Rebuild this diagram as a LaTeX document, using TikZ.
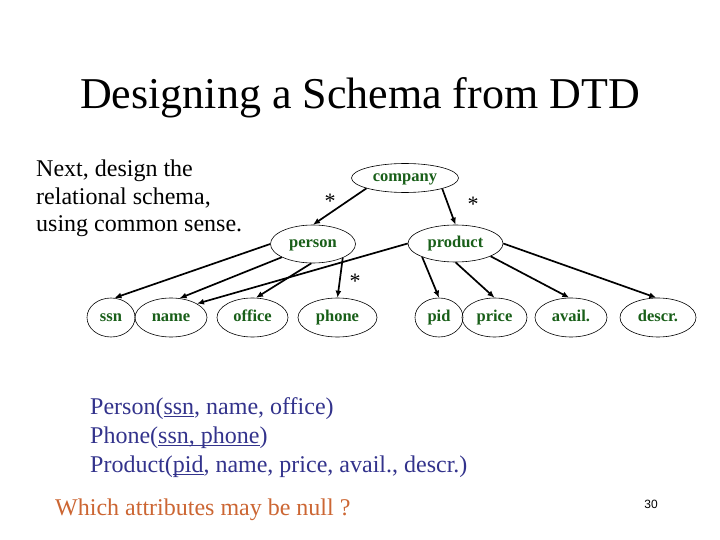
\documentclass[tikz,border=0pt]{standalone}
\usepackage{fontspec}
\setmainfont{Liberation Serif}
\newfontfamily\numfont{Liberation Sans}
\usetikzlibrary{shapes.geometric,arrows.meta}
\definecolor{nodegreen}{RGB}{25,95,25}
\definecolor{relblue}{RGB}{51,51,140}
\definecolor{qorange}{RGB}{204,102,51}
\newcommand\ulx[1]{\setbox0\hbox{#1}\rlap{\rule[-3pt]{\wd0}{1.3pt}}\box0}
\begin{document}
\begin{tikzpicture}[x=1pt,y=-1pt,
  ent/.style={ellipse,draw,line width=0.6pt,inner sep=0pt,text height=11pt,text depth=3.5pt,font=\fontsize{16.5}{18}\selectfont\bfseries,text=nodegreen},
  arr/.style={line width=1.7pt,-{Latex[length=7pt,width=6pt]}},
  star/.style={inner sep=0pt,font=\fontsize{22}{24}\selectfont},
  bodytext/.style={anchor=base west,inner sep=0pt,font=\fontsize{24}{28}\selectfont}]
\fill[white] (0,0) rectangle (720,540);
\useasboundingbox (0,0) rectangle (720,540);
% title
\node[anchor=base,inner sep=0pt,font=\fontsize{44}{48}\selectfont] (title) at (360,109) {Designing a Schema from DTD};
% left text
\node[bodytext] (l1) at (36,177) {Next, design the};
\node[bodytext] (l2) at (36,204.5) {relational schema,};
\node[bodytext] (l3) at (36,232) {using common sense.};
% entities
\node[ent,minimum width=107pt,minimum height=29pt] (company) at (405,178) {company};
\node[ent,minimum width=85pt,minimum height=38pt] (person) at (313,244) {person};
\node[ent,minimum width=95pt,minimum height=37pt] (product) at (455.5,243.5) {product};
\node[ent,minimum width=48pt,minimum height=39pt] (ssn) at (111,317.5) {ssn};
\node[ent,minimum width=72pt,minimum height=39pt] (name) at (171,317.5) {name};
\node[ent,minimum width=71pt,minimum height=39pt] (office) at (252.5,317.5) {office};
\node[ent,minimum width=79pt,minimum height=39pt] (phone) at (337.5,317.5) {phone};
\node[ent,minimum width=48pt,minimum height=39pt] (pid) at (439,317.5) {pid};
\node[ent,minimum width=65pt,minimum height=39pt] (price) at (494.5,317.5) {price};
\node[ent,minimum width=72pt,minimum height=39pt] (avail) at (571,317.5) {avail.};
\node[ent,minimum width=76pt,minimum height=39pt] (descr) at (658,317.5) {descr.};
% connectors
\draw[arr] (company.195) -- (person.north);
\draw[arr] (company.344) -- (product.north);
\draw[arr] (person.west) -- (ssn.80);
\draw[arr] (person.203) -- (name.66);
\draw[arr] (person.265) -- (office.80);
\draw[arr] (person.335) -- (phone.north);
\draw[arr] (product.west) -- (name.28);
\draw[arr] (product.202) -- (pid.north);
\draw[arr] (product.south) -- (price.north);
\draw[arr] (product.340) -- (avail.95);
\draw[arr] (product.east) -- (descr.95);
% stars
\node[star] (s1) at (330,201) {*};
\node[star] (s2) at (473,204) {*};
\node[star] (s3) at (355,281) {*};
% relations
\node[bodytext,text=relblue] (r1) at (90,414) {Person(\ulx{ssn}, name, office)};
\node[bodytext,text=relblue] (r2) at (90,443) {Phone(\ulx{ssn, phone})};
\node[bodytext,text=relblue] (r3) at (90,472) {Product(\ulx{pid}, name, price, avail., descr.)};
% question
\node[bodytext,text=qorange] (q) at (55,515) {Which attributes may be null ?};
\node[inner sep=0pt,font=\numfont\fontsize{12}{14}\selectfont] (pg) at (651,504) {30};
\end{tikzpicture}
\end{document}
